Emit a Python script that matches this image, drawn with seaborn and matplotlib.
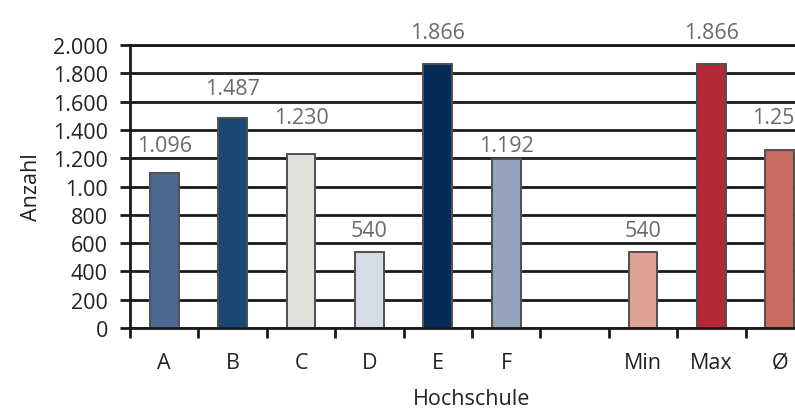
import numpy as np
import pandas as pd
import seaborn as sns
import matplotlib.pyplot as plt

# Daten
hochschulen = ["A", "B", "C", "D", "E", "F", "", "Min", "Max", "Ø"]
anzahl = [1096, 1487, 1230, 540, 1866, 1192, np.nan, 540, 1866, 1257]
farben = ["#4a6891", "#1b4873", "#e0e1da", "#d5dbe7", "#042c56", "#95a3bd",
          "#ffffff", "#dea193", "#b52838", "#c76b5f"]
y_ticks = [0, 200, 400, 600, 800, 1000, 1200, 1400, 1600, 1800, 2000]
y_tick_labels = ["0", "200", "400", "600", "800", "1.00", "1.200", "1.400",
                 "1.600", "1.800", "2.000"]

df = pd.DataFrame({"Hochschule": hochschulen, "Anzahl": anzahl})

sns.set_style("white")
plt.rcParams["font.family"] = ["Open Sans", "DejaVu Sans"]
fs = 15.5

fig = plt.figure(figsize=(7.95, 4.10), dpi=100)
ax = fig.add_axes([130 / 795, 81 / 410, 684 / 795, 283 / 410])

sns.barplot(data=df, x="Hochschule", y="Anzahl", hue="Hochschule",
            order=hochschulen, hue_order=hochschulen,
            palette=dict(zip(hochschulen, farben)), legend=False,
            width=0.42, edgecolor="#505050", linewidth=1.4, saturation=1,
            ax=ax)

# Werte ueber den Balken (im Gitterband ueber dem Balken)
for i, v in enumerate(anzahl):
    if np.isnan(v):
        continue
    txt = f"{v:,.0f}".replace(",", ".")
    ax.text(i, (v // 200 + 1.45) * 200, txt, ha="center", va="center",
            fontsize=fs, color="#6a6a6a", clip_on=False)

ax.set_ylim(0, 2000)
ax.set_xlim(-0.5, len(hochschulen) - 0.5)
ax.set_yticks(y_ticks)
ax.set_yticklabels(y_tick_labels)
ax.set_xticks(np.arange(-0.5, len(hochschulen), 1), minor=True)

ax.set_axisbelow(True)
ax.yaxis.grid(True, color="#1a1a1a", linewidth=2)
ax.xaxis.grid(False)

for side in ["left", "bottom", "top"]:
    ax.spines[side].set_visible(True)
    ax.spines[side].set_color("#1a1a1a")
    ax.spines[side].set_linewidth(2)
ax.spines["right"].set_visible(False)

ax.tick_params(axis="y", which="major", direction="out", length=7, width=2,
               color="#1a1a1a", left=True, pad=9, labelsize=fs,
               labelcolor="#222222")
ax.tick_params(axis="x", which="major", length=0, pad=17, labelsize=fs,
               labelcolor="#222222")
ax.tick_params(axis="x", which="minor", direction="out", length=7, width=2,
               color="#1a1a1a", bottom=True)

ax.set_ylabel("Anzahl", fontsize=fs, color="#222222", labelpad=8)
ax.set_xlabel("Hochschule", fontsize=fs, color="#222222", labelpad=11)

fig.savefig("out.png", dpi=100)
